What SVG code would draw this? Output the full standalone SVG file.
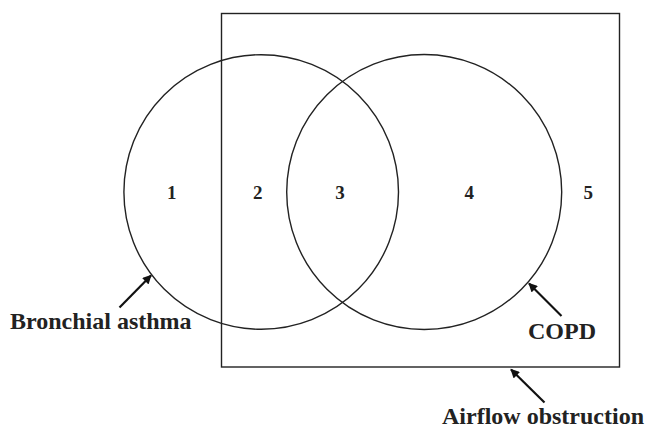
<svg xmlns="http://www.w3.org/2000/svg" width="651" height="428" viewBox="0 0 651 428">
<defs>
<marker id="ah" viewBox="0 0 10 10" refX="9" refY="5" markerWidth="11" markerHeight="9" markerUnits="userSpaceOnUse" orient="auto">
<path d="M0,0 L10,5 L0,10 z" fill="#111"/>
</marker>
</defs>
<style>
.shape{fill:none;stroke:#222;stroke-width:1.4}
.num{font-family:"Liberation Serif","Times New Roman",serif;font-weight:bold;font-size:19px;fill:#222;text-anchor:middle}
.lbl{font-family:"Liberation Serif","Times New Roman",serif;font-weight:bold;font-size:24px;fill:#222}
.arrow{stroke:#111;stroke-width:2.2;fill:none;marker-end:url(#ah)}
</style>
<rect width="651" height="428" fill="#fff"/>
<g id="airflow">
<rect class="shape" x="221.5" y="13.5" width="398" height="353.5"/>
<text class="lbl" x="442" y="424">Airflow obstruction</text>
</g>
<g id="asthma">
<circle class="shape" cx="261.2" cy="192" r="137.3"/>
<text class="lbl" x="10" y="329">Bronchial asthma</text>
</g>
<g id="copd">
<circle class="shape" cx="424.2" cy="192" r="137.5"/>
<text class="lbl" x="528" y="339">COPD</text>
</g>
<g id="regions">
<text class="num" x="171.7" y="198.5">1</text>
<text class="num" x="257.7" y="198.5">2</text>
<text class="num" x="340" y="198.5">3</text>
<text class="num" x="469.3" y="198.5">4</text>
<text class="num" x="588.3" y="198.5">5</text>
</g>
<g id="connectors">
<line class="arrow" x1="119.5" y1="307.5" x2="151" y2="275.5"/>
<line class="arrow" x1="561.5" y1="316" x2="529" y2="283.5"/>
<line class="arrow" x1="544.5" y1="402.5" x2="511" y2="369.5"/>
</g>
</svg>
